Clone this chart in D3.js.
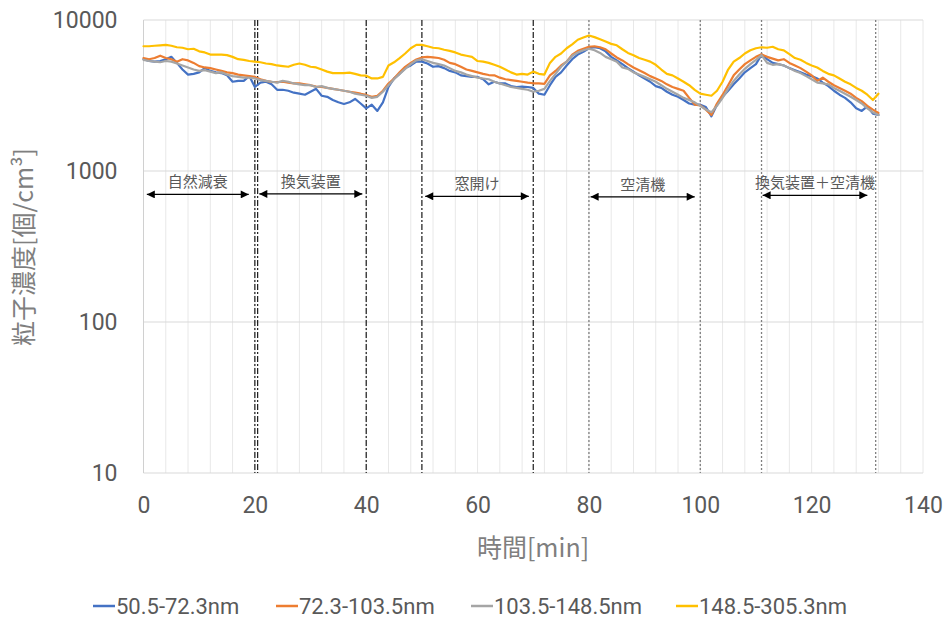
<!DOCTYPE html>
<html>
<head>
<meta charset="utf-8">
<script src="https://cdn.jsdelivr.net/npm/d3@7"></script>
<style>
	body { margin: 0; background: #fff; }
	svg text { font-family: Roboto, "Noto Sans CJK JP", sans-serif; }
	.jp { font-family: "Noto Sans CJK JP", sans-serif; }
</style>
</head>
<body>
<div id="chart"></div>
<script>
// particle counts per minute
var minutes = d3.range(0, 133);

var blue = [
	5500, 5350, 5300, 5350, 5500, 5700, 5200, 4700, 4350, 4400,
	4500, 4800, 4600, 4500, 4450, 4300, 3900, 3950, 3950, 4250,
	3600, 3850, 3900, 3750, 3450, 3450, 3400, 3300, 3250, 3200,
	3350, 3500, 3150, 3100, 2950, 2850, 2780, 2850, 3000, 2800,
	2600, 2750, 2500, 2850, 3600, 4100, 4400, 4800, 5000, 5300,
	5300, 5150, 4900, 4950, 4800, 4600, 4500, 4300, 4250, 4200,
	4200, 4050, 3750, 3900, 3800, 3800, 3650, 3600, 3620, 3600,
	3550, 3250, 3200, 3700, 4200, 4500, 5000, 5500, 5900, 6150,
	6500, 6600, 6500, 6200, 5700, 5400, 5100, 4800, 4550, 4300,
	4100, 3900, 3650, 3550, 3350, 3200, 3100, 2950, 2800, 2750,
	2750, 2650, 2300, 2750, 3100, 3400, 3750, 4100, 4500, 4800,
	5100, 5900, 5500, 5200, 5100, 5000, 4800, 4650, 4500, 4350,
	4250, 4100, 3850, 3650, 3400, 3200, 3050, 2850, 2600, 2500,
	2680, 2400, 2350
];

var orange = [
	5600, 5500, 5600, 5800, 5600, 5500, 5300, 5500, 5400, 5200,
	4950, 4850, 4800, 4700, 4600, 4500, 4450, 4350, 4300, 4250,
	4200, 4050, 3950, 3900, 3880, 3900, 3850, 3800, 3800, 3750,
	3700, 3620, 3600, 3550, 3500, 3450, 3400, 3350, 3300, 3250,
	3190, 3100, 3150, 3400, 3800, 4100, 4500, 4900, 5200, 5480,
	5650, 5700, 5650, 5600, 5450, 5200, 5100, 4900, 4700, 4600,
	4500, 4400, 4320, 4300, 4150, 4050, 4000, 3950, 3900, 3850,
	3810, 3800, 3780, 4300, 4600, 5000, 5300, 5900, 6250, 6450,
	6650, 6700, 6600, 6400, 6000, 5650, 5400, 5100, 4850, 4650,
	4450, 4250, 4100, 3950, 3750, 3600, 3500, 3400, 3050, 2750,
	2720, 2550, 2350, 2800, 3190, 3700, 4300, 4700, 5100, 5400,
	5700, 5920, 5700, 5550, 5400, 5500, 5200, 5000, 4800, 4550,
	4300, 3950, 4150, 3900, 3700, 3550, 3400, 3250, 3050, 2900,
	2700, 2550, 2420
];

var gray = [
	5450, 5350, 5300, 5250, 5350, 5300, 5150, 5000, 4850, 4700,
	4600, 4650, 4550, 4450, 4500, 4350, 4250, 4200, 4150, 4150,
	4100, 4000, 3950, 3900, 3850, 3950, 3900, 3800, 3750, 3700,
	3700, 3600, 3650, 3550, 3500, 3450, 3400, 3350, 3250, 3200,
	3150, 3050, 3100, 3350, 3700, 4050, 4400, 4750, 5100, 5400,
	5500, 5350, 5200, 5100, 5000, 4800, 4600, 4500, 4350, 4250,
	4150, 4100, 4050, 3900, 3800, 3700, 3600, 3550, 3500, 3450,
	3350, 3400, 3500, 3950, 4400, 4900, 5300, 5800, 6100, 6300,
	6450, 6300, 6050, 5700, 5500, 5300, 4850, 4750, 4500, 4350,
	4200, 4050, 3900, 3700, 3500, 3350, 3200, 3050, 2950, 2850,
	2700, 2550, 2450, 2700, 3050, 3500, 3950, 4350, 4750, 5100,
	5450, 5850, 5200, 5050, 5100, 5000, 4800, 4600, 4450, 4250,
	4050, 3850, 3800, 3750, 3550, 3400, 3250, 3100, 2950, 2800,
	2600, 2450, 2350
];

var yellow = [
	6700, 6700, 6750, 6800, 6850, 6750, 6600, 6550, 6400, 6450,
	6200, 6100, 5900, 5900, 5900, 5850, 5700, 5500, 5450, 5350,
	5300, 5250, 5150, 5100, 5000, 4950, 4900, 5050, 5150, 5050,
	4900, 4850, 4700, 4550, 4450, 4450, 4450, 4480, 4400, 4300,
	4280, 4100, 4100, 4200, 5000, 5250, 5600, 6000, 6500, 6850,
	6850, 6700, 6550, 6500, 6350, 6250, 6100, 5900, 5800, 5700,
	5350, 5300, 5200, 5050, 4900, 4700, 4500, 4350, 4400, 4350,
	4550, 4400, 4350, 5200, 5700, 6000, 6500, 6900, 7400, 7650,
	7900, 7700, 7450, 7200, 6950, 6800, 6400, 6050, 5850, 5600,
	5450, 5300, 5050, 4700, 4400, 4300, 4100, 3900, 3700, 3450,
	3250, 3200, 3150, 3400, 3900, 4700, 5300, 5600, 6000, 6300,
	6500, 6600, 6550, 6650, 6400, 6300, 5950, 5600, 5450, 5200,
	5000, 4850, 4600, 4400, 4300, 4100, 3900, 3750, 3550, 3400,
	3200, 2950, 3250
];

var seriesNames = ["50.5-72.3nm", "72.3-103.5nm", "103.5-148.5nm", "148.5-305.3nm"];
var xTicks = [0, 20, 40, 60, 80, 100, 120, 140];
var yTicks = [10, 100, 1000, 10000];

// operating phases, in minutes
var phaseNames = ["自然減衰", "換気装置", "窓開け", "空清機", "換気装置＋空清機"];
var phaseFrom = [0.6, 20.8, 50.6, 80.3, 111.2];
var phaseTo = [18.9, 39.3, 69.2, 99.0, 130.0];
var phaseLevel = [700, 705, 680, 675, 690];
var switchBlack = [20, 20.5, 40, 50, 70];
var switchGray = [80, 100, 111, 131.5];

(function () {
	var width = 948, height = 621;
	var colors = ["#4472C4", "#ED7D31", "#A5A5A5", "#FFC000"];
	var allSeries = [blue, orange, gray, yellow];

	var x = d3.scaleLinear().domain([0, 140]).range([143.5, 923]);
	var y = d3.scaleLog().domain([10, 10000]).range([473, 20]);

	var svg = d3.select("#chart").append("svg")
		.attr("width", width)
		.attr("height", height);

	var defs = svg.append("defs");
	["start", "end"].forEach(function (k) {
		defs.append("marker")
			.attr("id", "arrow-" + k)
			.attr("viewBox", "0 0 10 10")
			.attr("refX", k === "end" ? 10 : 0)
			.attr("refY", 5)
			.attr("markerWidth", 10)
			.attr("markerHeight", 8)
			.attr("markerUnits", "userSpaceOnUse")
			.attr("orient", "auto")
			.append("path")
			.attr("d", k === "end" ? "M0,0L10,5L0,10Z" : "M10,0L0,5L10,10Z")
			.attr("fill", "#000");
	});

	// grid
	svg.append("g").selectAll("line")
		.data(d3.range(4, 141, 4))
		.enter().append("line")
		.attr("x1", function (d) { return x(d); })
		.attr("x2", function (d) { return x(d); })
		.attr("y1", y(10000))
		.attr("y2", y(10))
		.attr("stroke", "#e8e8e8")
		.attr("stroke-width", 1);

	svg.append("g").selectAll("line")
		.data(yTicks)
		.enter().append("line")
		.attr("x1", x(0))
		.attr("x2", x(140))
		.attr("y1", function (d) { return y(d); })
		.attr("y2", function (d) { return y(d); })
		.attr("stroke", "#d9d9d9")
		.attr("stroke-width", 1);

	svg.append("line")
		.attr("x1", x(0)).attr("x2", x(0))
		.attr("y1", y(10000)).attr("y2", y(10))
		.attr("stroke", "#d0d0d0");

	// axes
	var yAxis = svg.append("g")
		.attr("transform", "translate(" + x(0) + ",0)")
		.call(d3.axisLeft(y).tickValues(yTicks).tickFormat(d3.format("d")).tickSize(0).tickPadding(26));
	var xAxis = svg.append("g")
		.attr("transform", "translate(0," + y(10) + ")")
		.call(d3.axisBottom(x).tickValues(xTicks).tickSize(0).tickPadding(24));
	[yAxis, xAxis].forEach(function (a) {
		a.select(".domain").remove();
		a.selectAll("text")
			.attr("fill", "#595959")
			.style("font-size", "23px");
	});

	// phase switch lines
	svg.append("g").selectAll("line")
		.data(switchBlack)
		.enter().append("line")
		.attr("x1", function (d) { return x(d); })
		.attr("x2", function (d) { return x(d); })
		.attr("y1", y(10000))
		.attr("y2", y(10))
		.attr("stroke", "#1a1a1a")
		.attr("stroke-width", 1.2)
		.attr("stroke-dasharray", "6,2,2,2");

	svg.append("g").selectAll("line")
		.data(switchGray)
		.enter().append("line")
		.attr("x1", function (d) { return x(d); })
		.attr("x2", function (d) { return x(d); })
		.attr("y1", y(10000))
		.attr("y2", y(10))
		.attr("stroke", "#7f7f7f")
		.attr("stroke-width", 1.3)
		.attr("stroke-dasharray", "2,2");

	// series
	var line = d3.line()
		.x(function (d, i) { return x(minutes[i]); })
		.y(function (d) { return y(d); });

	svg.append("g").selectAll("path")
		.data(allSeries)
		.enter().append("path")
		.attr("d", line)
		.attr("fill", "none")
		.attr("stroke", function (d, i) { return colors[i]; })
		.attr("stroke-width", 2.2)
		.attr("stroke-linejoin", "round")
		.attr("stroke-linecap", "round");

	// phase arrows and labels
	var phases = svg.append("g");
	phaseNames.forEach(function (name, i) {
		phases.append("line")
			.attr("x1", x(phaseFrom[i]))
			.attr("x2", x(phaseTo[i]))
			.attr("y1", y(phaseLevel[i]))
			.attr("y2", y(phaseLevel[i]))
			.attr("stroke", "#000")
			.attr("stroke-width", 1.2)
			.attr("marker-start", "url(#arrow-start)")
			.attr("marker-end", "url(#arrow-end)");
		phases.append("text")
			.attr("class", "jp")
			.attr("x", (x(phaseFrom[i]) + x(phaseTo[i])) / 2)
			.attr("y", y(phaseLevel[i]) - 7)
			.attr("text-anchor", "middle")
			.attr("fill", "#595959")
			.style("font-size", "15px")
			.text(name);
	});

	// axis titles
	svg.append("text")
		.attr("class", "jp")
		.attr("transform", "translate(33,247) rotate(-90)")
		.attr("text-anchor", "middle")
		.attr("fill", "#7f7f7f")
		.style("font-size", "25px")
		.text("粒子濃度[個/cm³]");

	svg.append("text")
		.attr("class", "jp")
		.attr("x", 533)
		.attr("y", 557)
		.attr("text-anchor", "middle")
		.attr("fill", "#7f7f7f")
		.style("font-size", "25px")
		.text("時間[min]");

	// legend
	var legendX = [93, 276, 471, 676];
	var legend = svg.append("g");
	seriesNames.forEach(function (name, i) {
		legend.append("line")
			.attr("x1", legendX[i])
			.attr("x2", legendX[i] + 22)
			.attr("y1", 606)
			.attr("y2", 606)
			.attr("stroke", colors[i])
			.attr("stroke-width", 2.5);
		legend.append("text")
			.attr("x", legendX[i] + 23)
			.attr("y", 606)
			.attr("dy", "0.35em")
			.attr("fill", "#595959")
			.style("font-size", "22px")
			.text(name);
	});
}());
</script>
</body>
</html>
